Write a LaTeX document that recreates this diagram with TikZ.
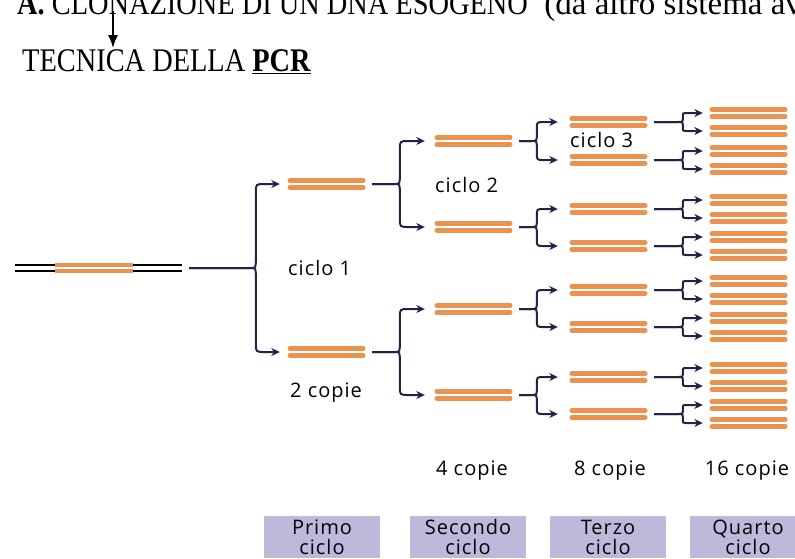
\documentclass[tikz,border=0pt]{standalone}
\usepackage{graphicx}
\usepackage{fontspec}
\setmainfont{Liberation Serif}
\newfontfamily\labfont[LetterSpace=5]{Open Sans}
\usetikzlibrary{arrows.meta,calc}
\definecolor{dnaorange}{RGB}{236,146,80}
\definecolor{navy}{RGB}{36,34,72}
\definecolor{lav}{RGB}{190,184,218}
\tikzset{
  copynode/.style={inner sep=0pt, minimum width=77pt, minimum height=11pt},
  bar/.style={dnaorange, line width=4.6pt, line cap=round},
  blackstrand/.style={black, line width=2pt},
  conn/.style={navy, line width=2pt, -{Stealth[length=8.5pt,width=8pt]}},
  lab/.style={font=\labfont\fontsize{20}{20}\selectfont, inner sep=0pt},
  cyclebox/.style={fill=lav, minimum width=116pt, minimum height=42pt, anchor=north,
    inner sep=0pt, align=center, font=\labfont\fontsize{20}{20}\selectfont},
}
\newcommand\copybars[1]{%
  \draw[bar] ([xshift=2pt,yshift=3.5pt]#1.west) -- ([xshift=-2pt,yshift=3.5pt]#1.east);
  \draw[bar] ([xshift=2pt,yshift=-3.5pt]#1.west) -- ([xshift=-2pt,yshift=-3.5pt]#1.east);}
\newcommand\pcrarm[5]{%
  \draw[conn] let \p1=(#1.east), \p2=(#2.west), \n1={sign(\y2-\y1)} in
  ({\x1+7pt},{\y1}) -- ({\x2-#3-5pt},{\y1}) .. controls ({\x2-#3},{\y1}) .. ({\x2-#3},{\y1+(\n1)*#4})
  -- ({\x2-#3},{\y2-(\n1)*#4}) .. controls ({\x2-#3},{\y2}) .. ({\x2-#3+#4},{\y2}) -- ({\x2-#5},{\y2});}
\begin{document}
\begin{tikzpicture}[x=1pt,y=-1pt]
\useasboundingbox[fill=white] (0,0) rectangle (795,558);

% heading
\node[anchor=base west, inner sep=0pt, font=\fontsize{33}{35}\selectfont] (head) at (17,14)
  {\scalebox{0.86}[1]{\textbf{A.} CLONAZIONE DI UN DNA ESOGENO}\ \ (da altro sistema av};
\node[anchor=base west, inner sep=0pt, font=\fontsize{33}{35}\selectfont] (title) at (22,71)
  {\scalebox{0.86}[1]{TECNICA DELLA \underline{\textbf{PCR}}}};
\coordinate (arrtop) at (113,11);
\coordinate (arrtip) at (113,48);
\draw[line width=1.6pt, -{Latex[length=13pt,width=10pt]}] (arrtop) -- (arrtip);

% original DNA
\node[copynode, minimum width=167pt] (c0) at (98.5,268) {};
\draw[blackstrand] ([yshift=3pt]c0.west) -- ([yshift=3pt]c0.east);
\draw[blackstrand] ([yshift=-3pt]c0.west) -- ([yshift=-3pt]c0.east);
\draw[bar, line cap=butt] (55,265) -- (133,265);
\draw[bar, line cap=butt] (55,271) -- (133,271);

% copies
\foreach \yy [count=\i] in {184,352}
  {\node[copynode] (c1-\i) at (326.5,\yy) {}; \copybars{c1-\i}}
\foreach \yy [count=\i] in {141,227,309,395}
  {\node[copynode] (c2-\i) at (473.5,\yy) {}; \copybars{c2-\i}}
\foreach \yy [count=\i] in {122,160,209,246,290,327,377,414}
  {\node[copynode] (c3-\i) at (608.5,\yy) {}; \copybars{c3-\i}}
\foreach \yy [count=\i] in {113,131,151,169,200,218,237,255,281,299,318,336,368,386,405,423}
  {\node[copynode] (c4-\i) at (748.5,\yy) {}; \copybars{c4-\i}}

% connectors
\foreach \i in {1,2} {\pcrarm{c0}{c1-\i}{32pt}{9pt}{8pt}}
\foreach \i in {1,...,4} {\pgfmathtruncatemacro\parentidx{(\i+1)/2}
  \pcrarm{c1-\parentidx}{c2-\i}{35pt}{9pt}{10pt}}
\foreach \i in {1,...,8} {\pgfmathtruncatemacro\parentidx{(\i+1)/2}
  \pcrarm{c2-\parentidx}{c3-\i}{33pt}{7pt}{12pt}}
\foreach \i in {1,...,16} {\pgfmathtruncatemacro\parentidx{(\i+1)/2}
  \pcrarm{c3-\parentidx}{c4-\i}{27pt}{4pt}{7pt}}

% labels
\node[lab, anchor=base west] (lcic1) at (288,275) {ciclo 1};
\node[lab, anchor=base west] (lcop2) at (290,397) {2 copie};
\node[lab, anchor=base west] (lcic2) at (435,192) {ciclo 2};
\node[lab, anchor=base west] (lcic3) at (570,147) {ciclo 3};
\node[lab, anchor=base] (lcop4) at (472,475) {4 copie};
\node[lab, anchor=base] (lcop8) at (610,475) {8 copie};
\node[lab, anchor=base] (lcop16) at (747,475) {16 copie};

% cycle boxes
\node[cyclebox] (b1) at (322,516) {Primo\\ciclo};
\node[cyclebox] (b2) at (468,516) {Secondo\\ciclo};
\node[cyclebox] (b3) at (608,516) {Terzo\\ciclo};
\node[cyclebox] (b4) at (748,516) {Quarto\\ciclo};
\end{tikzpicture}
\end{document}
